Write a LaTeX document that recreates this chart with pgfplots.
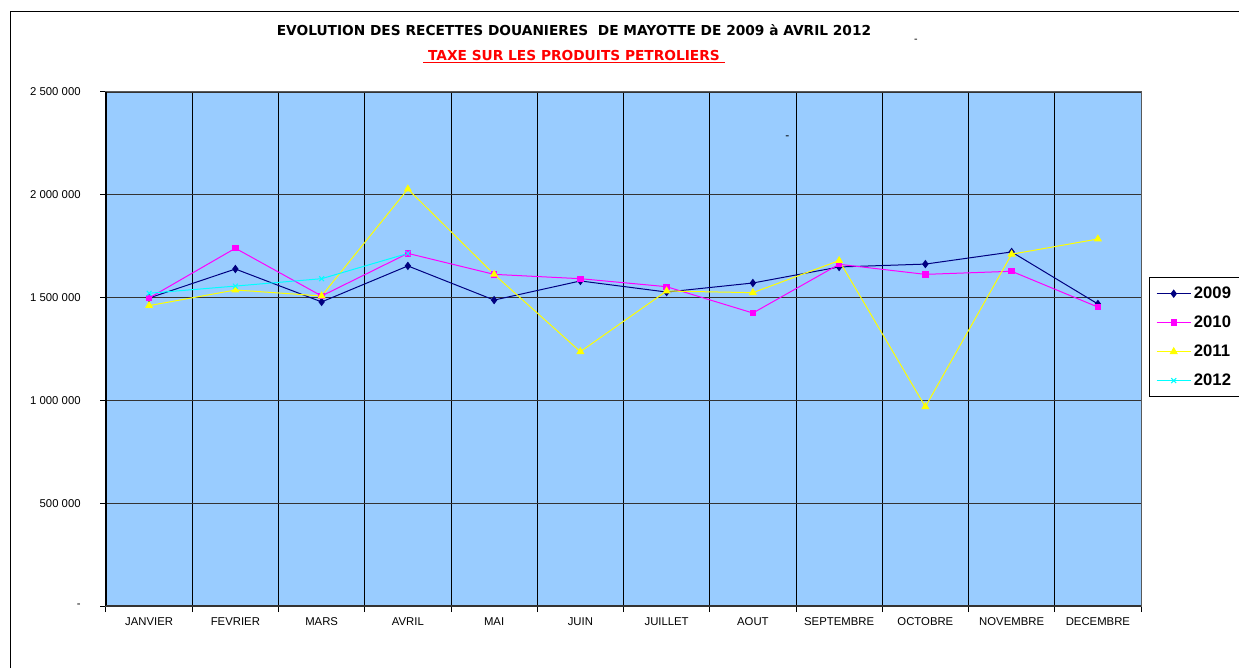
\documentclass[border=0pt]{standalone}
\usepackage{pgfplots}
\pgfplotsset{compat=1.18}
\usepackage{fontspec}
\setmainfont{Liberation Sans}
\newfontfamily\titlefont{DejaVu Sans}

\definecolor{fond}{RGB}{153,204,255}
\definecolor{marine}{RGB}{0,0,128}
\definecolor{rose}{RGB}{255,0,255}
\definecolor{jaune}{RGB}{255,255,0}
\definecolor{cyanc}{RGB}{0,255,255}

\begin{document}
\begin{tikzpicture}
  \clip (0,0) rectangle (929.25pt,501pt);
  \path[use as bounding box] (0,0) rectangle (929.25pt,501pt);
  % cadre du graphique
  \draw[black, line width=0.75pt] (7.5pt,0) -- (7.5pt,492pt) -- (935pt,492pt);
  \node[font=\titlefont\bfseries\fontsize{10.3}{12}\selectfont] at (430.5pt,478.5pt)
    {EVOLUTION DES RECETTES DOUANIERES\ \ DE MAYOTTE DE 2009 à AVRIL 2012};
  \node[font=\titlefont\bfseries\fontsize{10.3}{12}\selectfont, text=red] (sous) at (430.5pt,459pt)
    {TAXE SUR LES PRODUITS PETROLIERS};
  \draw[red, line width=0.75pt] ([yshift=-1.5pt]sous.base west) -- ([yshift=-1.5pt]sous.base east);
  \node[font=\fontsize{8}{9}\selectfont] at (687pt,470.25pt) {-};

  \begin{axis}[
      at={(79.5pt,46.5pt)}, anchor=south west,
      scale only axis,
      width=776.25pt, height=385.5pt,
      xmin=0.5, xmax=12.5,
      ymin=0, ymax=2500000,
      scaled y ticks=false,
      tick pos=left,
      axis background/.style={fill=fond},
      axis line style={draw=gray!70!black, line width=0.75pt},
      xtick={1,...,12},
      xticklabels={JANVIER,FEVRIER,MARS,AVRIL,MAI,JUIN,JUILLET,AOUT,SEPTEMBRE,OCTOBRE,NOVEMBRE,DECEMBRE},
      minor xtick={0.5,1.5,...,12.5},
      major x tick style={draw=none},
      minor x tick style={black, line width=0.75pt},
      xminorgrids=true,
      minor x grid style={black, line width=0.6pt},
      ytick={0,500000,1000000,1500000,2000000,2500000},
      yticklabels={-,500 000,1 000 000,1 500 000,2 000 000,2 500 000},
      ymajorgrids=true,
      major y grid style={black!80, line width=0.9pt},
      tick align=outside,
      major tick length=4.5pt,
      minor tick length=4.5pt,
      y tick style={black, line width=0.75pt},
      tick label style={font=\fontsize{8.5}{9}\selectfont},
      yticklabel style={xshift=-11pt},
      xticklabel style={yshift=-1pt},
      clip=false,
      legend style={at={(1.0077,0.640)}, anchor=north west,
        draw=black, line width=0.75pt, fill=white,
        font=\bfseries\fontsize{12.5}{13}\selectfont,
        row sep=7.5pt, inner xsep=5pt, inner ysep=5pt},
      legend cell align=left,
      legend image code/.code={
        \draw[mark repeat=2,mark phase=2] plot coordinates {(0cm,0cm)(0.45cm,0cm)(0.9cm,0cm)};}
    ]
    \addplot[marine, line width=0.75pt, mark=diamond*, mark size=2.6pt] coordinates {
      (1,1498000) (2,1639000) (3,1479000) (4,1654000) (5,1488000) (6,1581000)
      (7,1527000) (8,1571000) (9,1649000) (10,1663000) (11,1722000) (12,1469000)};
    \addplot[rose, line width=0.75pt, mark=square*, mark size=2pt] coordinates {
      (1,1498000) (2,1740000) (3,1508000) (4,1715000) (5,1613000) (6,1592000)
      (7,1553000) (8,1425000) (9,1662000) (10,1613000) (11,1628000) (12,1454000)};
    \addplot[jaune, line width=0.75pt, mark=triangle*, mark size=2.8pt] coordinates {
      (1,1461000) (2,1537000) (3,1508000) (4,2028000) (5,1613000) (6,1237000)
      (7,1532000) (8,1524000) (9,1680000) (10,969000) (11,1711000) (12,1785000)};
    \addplot[cyanc, line width=0.75pt, mark=x, mark size=2.6pt] coordinates {
      (1,1521000) (2,1556000) (3,1592000) (4,1715000)};
    \legend{2009,2010,2011,2012}
    \draw[black, line width=1.5pt] (rel axis cs:0,0) -- (rel axis cs:0,1);
    \draw[black!80, line width=1.2pt] (rel axis cs:0,0) -- (rel axis cs:1,0);
    \node[font=\fontsize{9}{10}\selectfont] at (axis cs:8.4,2280000) {-};
  \end{axis}
\end{tikzpicture}
\end{document}
